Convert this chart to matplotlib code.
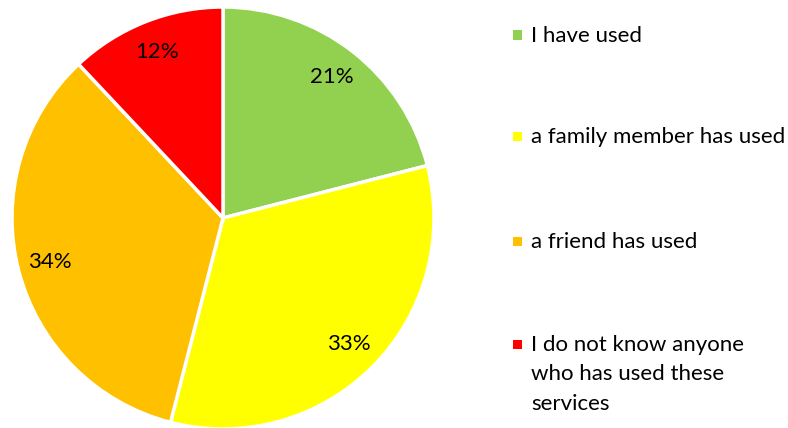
import matplotlib.pyplot as plt
from matplotlib.patches import Rectangle

labels = ['I have used', 'a family member has used', 'a friend has used',
          'I do not know anyone\nwho has used these\nservices']
shares = [21, 33, 34, 12]
colors = ['#92D050', '#FFFF00', '#FFC000', '#FF0000']

plt.rcParams['font.family'] = ['Lato', 'DejaVu Sans']

W, H = 788, 428
fig = plt.figure(figsize=(W / 100, H / 100), dpi=100)

# pie: centre (223, 218) px from top-left, radius 211 px
cx, cy, r = 223, 218, 211
ax = fig.add_axes([(cx - r) / W, (H - cy - r) / H, 2 * r / W, 2 * r / H])
wedges, texts, autotexts = ax.pie(
    shares, colors=colors, startangle=90, counterclock=False,
    autopct='%d%%', pctdistance=0.845, radius=1,
    wedgeprops=dict(edgecolor='white', linewidth=2.5),
    textprops=dict(fontsize=16, color='black'))
ax.set_xlim(-1, 1)
ax.set_ylim(-1, 1)
ax.set_aspect('equal')
ax.axis('off')

# legend drawn by hand so the marker sits on the first line
baselines = [42, 143, 248, 351]
line_gap = 29.5
for lab, col, y in zip(labels, colors, baselines):
    fig.add_artist(Rectangle((513 / W, (H - y + 2.5) / H), 9 / W, 9 / H,
                             transform=fig.transFigure, facecolor=col,
                             edgecolor='none'))
    for i, line in enumerate(lab.split('\n')):
        fig.text(531 / W, (H - y - i * line_gap) / H, line, fontsize=16,
                 va='baseline', ha='left', transform=fig.transFigure)

fig.savefig('out.png', dpi=100)
